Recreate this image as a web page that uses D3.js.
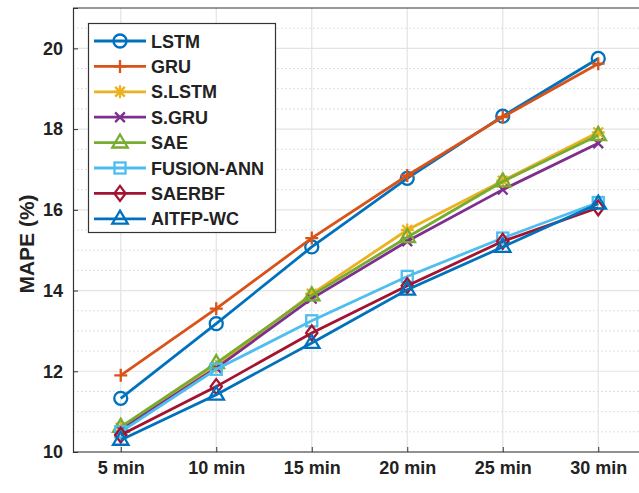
<!DOCTYPE html>
<html>
<head>
<meta charset="utf-8">
<script src="https://cdn.jsdelivr.net/npm/d3@7"></script>
<style>
body { margin: 0; background: #fff; }
text { font-family: "Liberation Sans", Arial, sans-serif; font-weight: bold; }
</style>
</head>
<body>
<svg id="chart"></svg>
<script>
// horizons and MAPE values
const horizons = ["5 min", "10 min", "15 min", "20 min", "25 min", "30 min"];
const models = ["LSTM", "GRU", "S.LSTM", "S.GRU", "SAE", "FUSION-ANN", "SAERBF", "AITFP-WC"];
const lstm      = [11.33, 13.18, 15.08, 16.78, 18.32, 19.75];
const gru       = [11.90, 13.55, 15.30, 16.85, 18.30, 19.62];
const slstm     = [10.60, 12.12, 13.92, 15.50, 16.72, 17.92];
const sgru      = [10.55, 12.08, 13.80, 15.22, 16.50, 17.65];
const sae       = [10.62, 12.20, 13.88, 15.32, 16.70, 17.85];
const fusionAnn = [10.50, 12.05, 13.25, 14.35, 15.30, 16.18];
const saerbf    = [10.42, 11.62, 12.95, 14.12, 15.22, 16.05];
const aitfp     = [10.30, 11.42, 12.70, 14.02, 15.08, 16.15];
const yTicks = [10, 12, 14, 16, 18, 20];

const series = [lstm, gru, slstm, sgru, sae, fusionAnn, saerbf, aitfp];
const colors = ["#0072BD", "#D95319", "#EDB120", "#7E2F8E", "#77AC30", "#4DBEEE", "#A2142F", "#0072BD"];
const markers = ["circle", "plus", "star", "cross", "triangle", "square", "diamond", "triangle"];

const W = 639, H = 493;
const margin = {top: 8, left: 73, bottom: 41};
const svg = d3.select("#chart").attr("width", W).attr("height", H);

// x domain runs half a step past the last point, so the right border falls off the canvas
const x = d3.scaleLinear().domain([0.5, 6.5]).range([margin.left, 646]);
const y = d3.scaleLinear().domain([10, 21]).range([H - margin.bottom, margin.top]);

const grid = svg.append("g");
// minor grid, dotted
grid.selectAll("line.minor")
  .data(d3.range(10.5, 21, 0.5).filter(v => v % 2 !== 0))
  .enter().append("line")
  .attr("x1", margin.left).attr("x2", W)
  .attr("y1", d => y(d)).attr("y2", d => y(d))
  .attr("stroke", "#d4d4d4").attr("stroke-width", 1)
  .attr("stroke-dasharray", "1.5,2.5");
// major grid
grid.selectAll("line.hmaj")
  .data(yTicks)
  .enter().append("line")
  .attr("x1", margin.left).attr("x2", W)
  .attr("y1", d => y(d)).attr("y2", d => y(d))
  .attr("stroke", "#e3e3e3").attr("stroke-width", 1.2);
grid.selectAll("line.vmaj")
  .data(horizons)
  .enter().append("line")
  .attr("x1", (d, i) => x(i + 1)).attr("x2", (d, i) => x(i + 1))
  .attr("y1", y(21)).attr("y2", y(10))
  .attr("stroke", "#e3e3e3").attr("stroke-width", 1.2);

// axes (ticks inward like matlab)
const yAxis = svg.append("g")
  .attr("transform", `translate(${margin.left},0)`)
  .call(d3.axisLeft(y).tickValues(yTicks).tickSize(-5).tickPadding(10).tickFormat(d3.format("d")));
const xAxis = svg.append("g")
  .attr("transform", `translate(0,${y(10)})`)
  .call(d3.axisBottom(x).tickValues(d3.range(1, 7)).tickSize(-5).tickPadding(9)
    .tickFormat(d => horizons[d - 1]));
[xAxis, yAxis].forEach(a => {
  a.select(".domain").attr("stroke", "#333").attr("stroke-width", 1.2);
  a.selectAll(".tick line").attr("stroke", "#333");
  a.selectAll("text").attr("fill", "#222").style("font-size", "18px").style("font-weight", "bold")
    .style("font-family", "'Liberation Sans', Arial, sans-serif");
});
xAxis.select(".domain").attr("d", `M${margin.left},0H${W}`);
svg.append("line")
  .attr("x1", margin.left).attr("x2", W)
  .attr("y1", y(21)).attr("y2", y(21))
  .attr("stroke", "#333").attr("stroke-width", 1.2);

svg.append("text")
  .attr("transform", `translate(34,${(y(10) + y(21)) / 2 + 14}) rotate(-90)`)
  .attr("text-anchor", "middle")
  .attr("fill", "#222")
  .style("font-size", "21px")
  .text("MAPE (%)");

// marker shapes
function drawMarker(g, type, cx, cy, color) {
  const s = 6.5;
  const st = sel => sel.attr("stroke", color).attr("stroke-width", 2.3).attr("fill", "none");
  if (type === "circle") st(g.append("circle").attr("cx", cx).attr("cy", cy).attr("r", s));
  else if (type === "plus") st(g.append("path").attr("d", `M${cx - s},${cy}H${cx + s}M${cx},${cy - s}V${cy + s}`));
  else if (type === "cross") {
    const k = s * 0.75;
    st(g.append("path").attr("d", `M${cx - k},${cy - k}L${cx + k},${cy + k}M${cx - k},${cy + k}L${cx + k},${cy - k}`));
  } else if (type === "star") {
    const k = s * 0.75;
    st(g.append("path").attr("d", `M${cx - s},${cy}H${cx + s}M${cx},${cy - s}V${cy + s}M${cx - k},${cy - k}L${cx + k},${cy + k}M${cx - k},${cy + k}L${cx + k},${cy - k}`));
  } else if (type === "triangle") {
    const r = s * 1.25;
    st(g.append("path").attr("d", `M${cx},${cy - r}L${cx + r * 0.95},${cy + r * 0.6}L${cx - r * 0.95},${cy + r * 0.6}Z`));
  } else if (type === "square") {
    const k = s * 0.85;
    st(g.append("rect").attr("x", cx - k).attr("y", cy - k).attr("width", 2 * k).attr("height", 2 * k));
  } else if (type === "diamond") {
    const r = s * 1.15;
    st(g.append("path").attr("d", `M${cx},${cy - r}L${cx + r * 0.75},${cy}L${cx},${cy + r}L${cx - r * 0.75},${cy}Z`));
  }
}

const line = d3.line().x((d, i) => x(i + 1)).y(d => y(d));
const plot = svg.append("g");
series.forEach((vals, k) => {
  const g = plot.append("g");
  g.append("path").datum(vals)
    .attr("d", line)
    .attr("fill", "none")
    .attr("stroke", colors[k])
    .attr("stroke-width", 2.8);
  vals.forEach((v, i) => drawMarker(g, markers[k], x(i + 1), y(v), colors[k]));
});

// legend
const lg = svg.append("g");
lg.append("rect")
  .attr("x", 88.5).attr("y", 23.5).attr("width", 187).attr("height", 209)
  .attr("fill", "#fff").attr("stroke", "#333").attr("stroke-width", 1.2);
models.forEach((m, k) => {
  const ly = 41 + k * 25.4;
  const g = lg.append("g");
  g.append("line").attr("x1", 94).attr("x2", 146).attr("y1", ly).attr("y2", ly)
    .attr("stroke", colors[k]).attr("stroke-width", 2.8);
  drawMarker(g, markers[k], 120, ly, colors[k]);
  g.append("text").attr("x", 151).attr("y", ly + 6.5)
    .attr("fill", "#222").style("font-size", "18px").text(m);
});
</script>
</body>
</html>
